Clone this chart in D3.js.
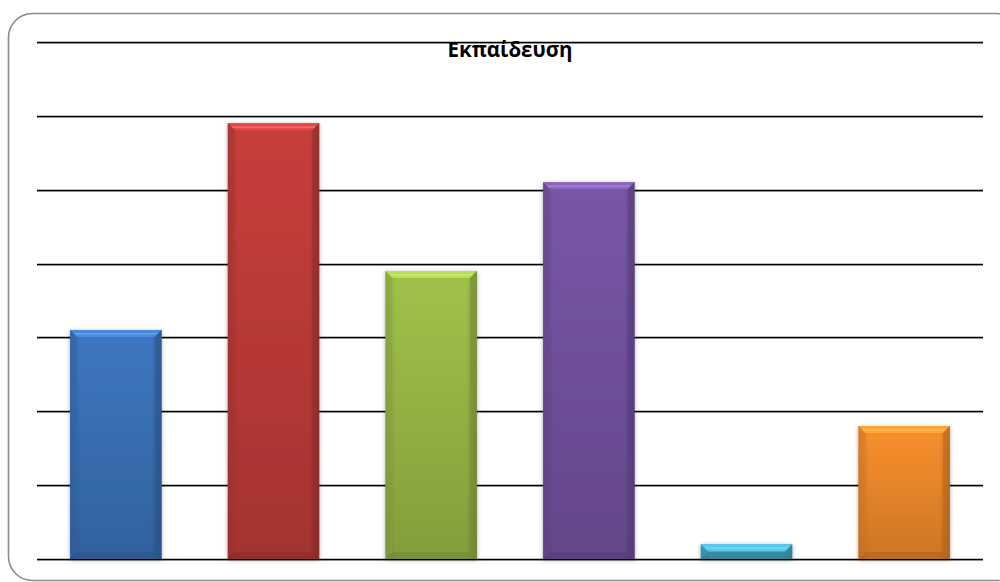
<!DOCTYPE html>
<html>
<head>
<meta charset="utf-8">
<script src="https://cdn.jsdelivr.net/npm/d3@7"></script>
<style>
  html, body { margin: 0; padding: 0; background: #ffffff; }
  svg { display: block; }
</style>
</head>
<body>
<svg id="chart" width="1000" height="582"></svg>
<script>
const title = "Εκπαίδευση";
const categories = ["1", "2", "3", "4", "5", "6"];
const values = [31, 59, 39, 51, 2, 18];
const yTicks = [0, 10, 20, 30, 40, 50, 60, 70];
const baseColors = ["#3b72b9", "#c03c39", "#9aba46", "#7453a1", "#46a9c4", "#f08a2c"];

const svg = d3.select("#chart");
const plot = { left: 37, right: 983, top: 42, bottom: 559 };

// frame
svg.append("rect")
  .attr("x", 8.5).attr("y", 13.5)
  .attr("width", 1012).attr("height", 567)
  .attr("rx", 24).attr("ry", 24)
  .attr("fill", "#ffffff")
  .attr("stroke", "#8c8c8c").attr("stroke-width", 1.6);

const x = d3.scaleBand().domain(categories)
  .range([plot.left, plot.right])
  .paddingInner(0.42).paddingOuter(0.21);
const y = d3.scaleLinear().domain([0, 70]).range([plot.bottom, plot.top]);

const defs = svg.append("defs");
const f = defs.append("filter").attr("id", "shadow")
  .attr("filterUnits", "userSpaceOnUse")
  .attr("x", 0).attr("y", 0).attr("width", 1000).attr("height", 582);
f.append("feDropShadow").attr("dx", 0).attr("dy", 1).attr("stdDeviation", 2.2)
  .attr("flood-color", "#000").attr("flood-opacity", 0.35);

baseColors.forEach((c, i) => {
  const base = d3.color(c);
  const g = defs.append("linearGradient").attr("id", "g" + i)
    .attr("x1", 0).attr("y1", 0).attr("x2", 0).attr("y2", 1);
  g.append("stop").attr("offset", "0%").attr("stop-color", base.brighter(0.12));
  g.append("stop").attr("offset", "100%").attr("stop-color", base.darker(0.45));
  const h = defs.append("linearGradient").attr("id", "h" + i)
    .attr("x1", 0).attr("y1", 0).attr("x2", 1).attr("y2", 0);
  h.append("stop").attr("offset", "0%").attr("stop-color", "#000").attr("stop-opacity", 0.12);
  h.append("stop").attr("offset", "12%").attr("stop-color", "#000").attr("stop-opacity", 0);
  h.append("stop").attr("offset", "88%").attr("stop-color", "#000").attr("stop-opacity", 0);
  h.append("stop").attr("offset", "100%").attr("stop-color", "#000").attr("stop-opacity", 0.18);
});

// gridlines (with soft shadow line beneath)
const grid = svg.append("g");
grid.selectAll("line.sh").data(yTicks).join("line").attr("class", "sh")
  .attr("x1", plot.left).attr("x2", plot.right)
  .attr("y1", d => Math.round(y(d)) + 1.5).attr("y2", d => Math.round(y(d)) + 1.5)
  .attr("stroke", "#000").attr("stroke-opacity", 0.25).attr("stroke-width", 1.2);
grid.selectAll("line.gl").data(yTicks).join("line").attr("class", "gl")
  .attr("x1", plot.left).attr("x2", plot.right)
  .attr("y1", d => Math.round(y(d)) + 0.5).attr("y2", d => Math.round(y(d)) + 0.5)
  .attr("stroke", "#000").attr("stroke-width", 1.6);

// bars
const bars = svg.append("g").selectAll("g").data(values).join("g");
bars.each(function(v, i) {
  const g = d3.select(this);
  const x0 = x(categories[i]), x1 = x0 + x.bandwidth();
  const y0 = y(v), y1 = y(0);
  const b = Math.min(7, (y1 - y0) / 2);
  const base = d3.color(baseColors[i]);
  const pts = a => a.map(p => p.join(",")).join(" ");
  g.append("rect").attr("x", x0).attr("y", y0)
    .attr("width", x1 - x0).attr("height", y1 - y0)
    .attr("fill", `url(#g${i})`).attr("filter", "url(#shadow)");
  g.append("rect").attr("x", x0).attr("y", y0)
    .attr("width", x1 - x0).attr("height", y1 - y0)
    .attr("fill", `url(#h${i})`);
  g.append("polygon")
    .attr("points", pts([[x0, y0], [x1, y0], [x1 - b, y0 + b], [x0 + b, y0 + b]]))
    .attr("fill", base.brighter(0.55)).attr("opacity", 0.95);
  g.append("polygon")
    .attr("points", pts([[x0, y0], [x0 + b, y0 + b], [x0 + b, y1 - b], [x0, y1]]))
    .attr("fill", base.darker(0.35)).attr("opacity", 0.45);
  g.append("polygon")
    .attr("points", pts([[x1, y0], [x1 - b, y0 + b], [x1 - b, y1 - b], [x1, y1]]))
    .attr("fill", base.darker(0.8)).attr("opacity", 0.55);
  g.append("polygon")
    .attr("points", pts([[x0, y1], [x1, y1], [x1 - b, y1 - b], [x0 + b, y1 - b]]))
    .attr("fill", base.darker(0.9)).attr("opacity", 0.55);
  g.append("line")
    .attr("x1", x0 + b * 0.6).attr("x2", x1 - b * 0.6)
    .attr("y1", y0 + b * 0.55).attr("y2", y0 + b * 0.55)
    .attr("stroke", "#ffffff").attr("stroke-opacity", 0.25).attr("stroke-width", 1.2);
});

// title
svg.append("text")
  .attr("x", 510).attr("y", 57)
  .attr("text-anchor", "middle")
  .attr("font-family", "'Open Sans', 'DejaVu Sans', sans-serif")
  .attr("font-weight", "bold")
  .attr("font-size", 20.5)
  .attr("fill", "#000")
  .text(title);
</script>
</body>
</html>
